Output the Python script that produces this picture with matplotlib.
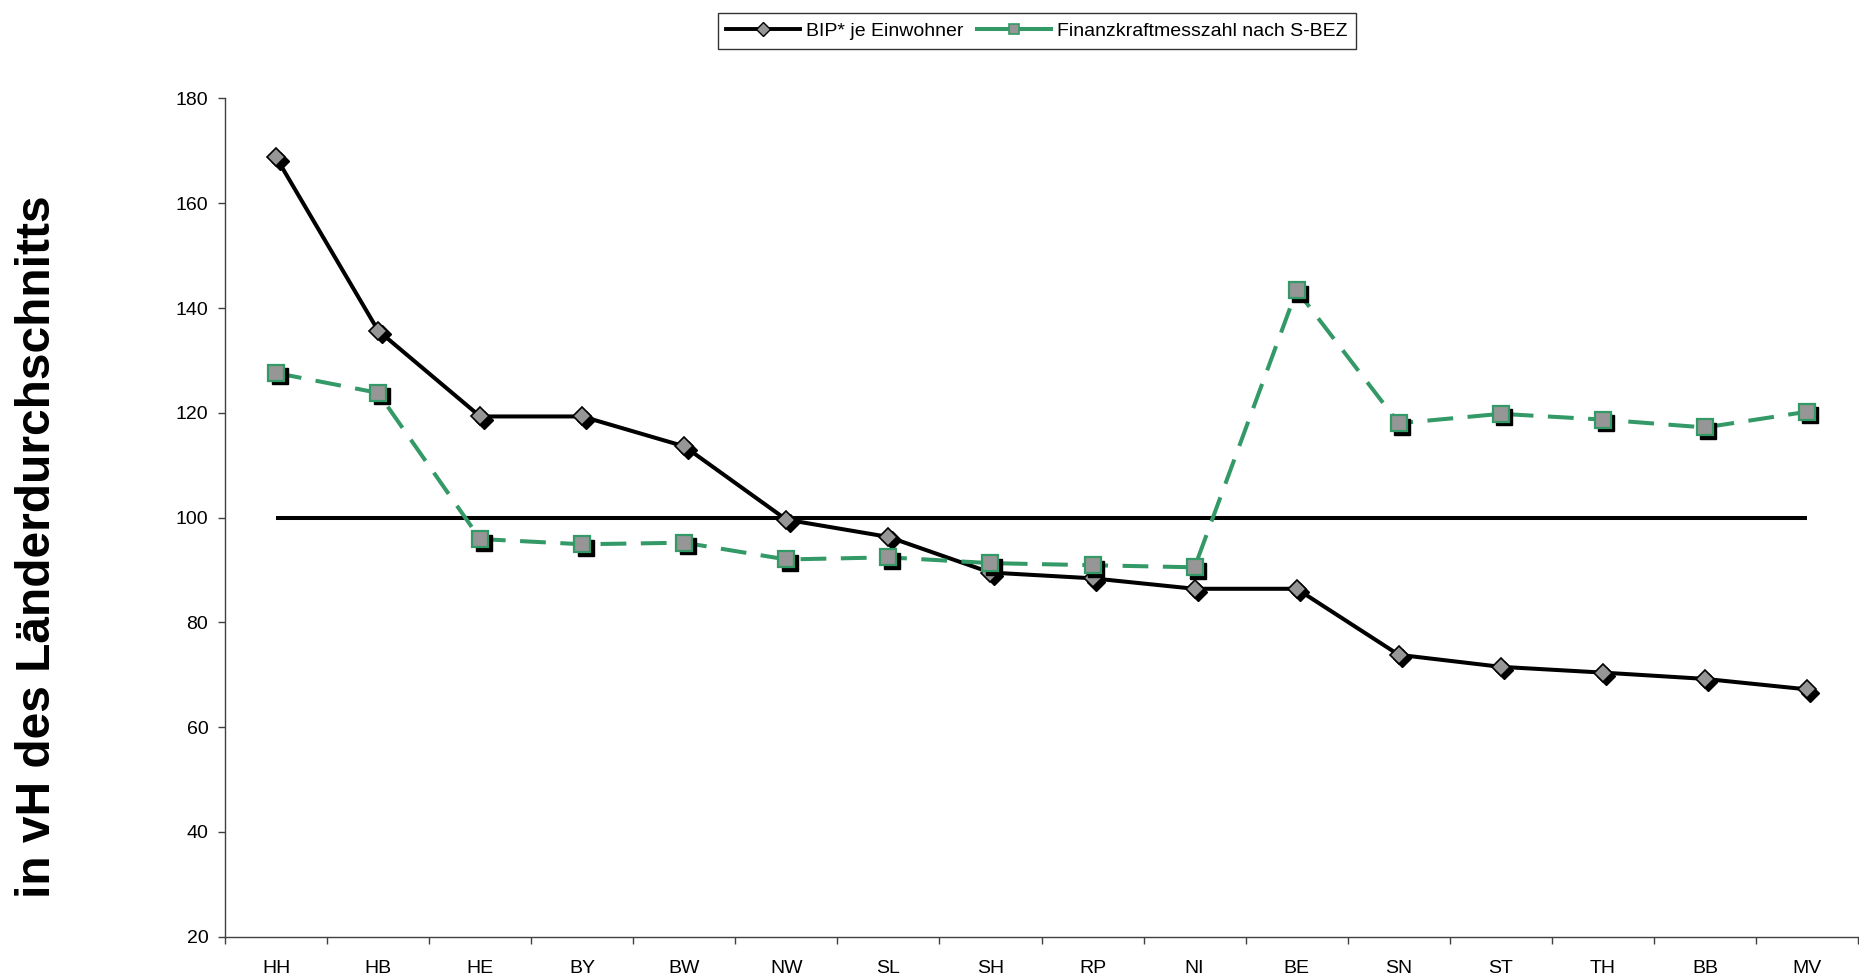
import matplotlib
matplotlib.use("Agg")
import matplotlib.pyplot as plt
from matplotlib.lines import Line2D
from matplotlib.transforms import offset_copy

# Länder, sorted by GDP per capita
laender = ["HH", "HB", "HE", "BY", "BW", "NW", "SL", "SH",
           "RP", "NI", "BE", "SN", "ST", "TH", "BB", "MV"]

# BIP* je Einwohner, in vH des Länderdurchschnitts
bip_je_einwohner = [168.8, 135.7, 119.3, 119.3, 113.6, 99.6, 96.3, 89.5,
                    88.4, 86.4, 86.4, 73.8, 71.5, 70.4, 69.2, 67.2]

# Finanzkraftmesszahl nach S-BEZ, in vH des Länderdurchschnitts
finanzkraft_s_bez = [127.6, 123.8, 95.9, 94.9, 95.2, 92.0, 92.4, 91.3,
                     90.9, 90.5, 143.4, 118.0, 119.8, 118.7, 117.2, 120.2]

laenderdurchschnitt = 100
y_ticks = [20, 40, 60, 80, 100, 120, 140, 160, 180]

label_bip = "BIP* je Einwohner"
label_fkz = "Finanzkraftmesszahl nach S-BEZ"
y_label = "in vH des Länderdurchschnitts"

GREEN = "#339966"
GREY = "#969696"

plt.rcParams["font.family"] = ["Liberation Sans", "DejaVu Sans"]

W, H = 1859, 980
fig = plt.figure(figsize=(W / 100, H / 100), dpi=100)
ax = fig.add_axes([225 / W, 1 - 936.6 / H, (1858 - 225) / W, (936.6 - 98.5) / H])

x = list(range(len(laender)))
shadow = offset_copy(ax.transData, fig=fig, x=3.5, y=-3.5, units="dots")

# Reference line for the average of all Länder
ax.hlines(laenderdurchschnitt, x[0], x[-1], color="black", lw=2.9, zorder=2)

# GDP per capita: solid black line with grey diamonds
ax.plot(x, bip_je_einwohner, color="black", lw=2.9, zorder=3,
        solid_joinstyle="miter")
ax.plot(x, bip_je_einwohner, ls="none", marker="D", ms=9.5,
        mfc="black", mec="black", transform=shadow, zorder=4)
ax.plot(x, bip_je_einwohner, ls="none", marker="D", ms=9.5,
        mfc=GREY, mec="black", mew=1.2, zorder=5)

# Financial strength: dashed green line with grey squares
ax.plot(x, finanzkraft_s_bez, color=GREEN, lw=2.9, ls=(0, (6.4, 3.6)),
        zorder=6)
ax.plot(x, finanzkraft_s_bez, ls="none", marker="s", ms=11,
        mfc="black", mec="black", transform=shadow, zorder=7)
ax.plot(x, finanzkraft_s_bez, ls="none", marker="s", ms=11,
        mfc=GREY, mec=GREEN, mew=1.6, zorder=8)

# Axes styling
ax.set_xlim(-0.5, len(laender) - 0.5)
ax.set_ylim(y_ticks[0], y_ticks[-1])
ax.set_yticks(y_ticks)
ax.set_xticks(x)
ax.set_xticklabels(laender)
ax.set_xticks([i - 0.5 for i in range(len(laender) + 1)], minor=True)
ax.tick_params(axis="x", which="major", length=0, pad=17, labelsize=14)
ax.tick_params(axis="x", which="minor", length=5, width=1, color="#404040")
ax.tick_params(axis="y", length=5, width=1, color="#404040", pad=7,
               labelsize=14)
for side in ("top", "right"):
    ax.spines[side].set_visible(False)
for side in ("left", "bottom"):
    ax.spines[side].set_color("#404040")
    ax.spines[side].set_linewidth(1.0)

# Legend on top of the figure
h_bip = Line2D([], [], color="black", lw=2.8, marker="D", ms=7,
               mfc=GREY, mec="black", mew=1.0)
h_fkz = Line2D([], [], color=GREEN, lw=2.9, marker="s", ms=7,
               mfc=GREY, mec=GREEN, mew=1.2)
leg = fig.legend([h_bip, h_fkz], [label_bip, label_fkz], loc="center",
                 bbox_to_anchor=(1037 / W, 1 - 31 / H), ncol=2,
                 frameon=True, fancybox=False, edgecolor="black",
                 fontsize=14, handlelength=3.8, handletextpad=0.3,
                 columnspacing=0.7, borderpad=0.45)
leg.get_frame().set_linewidth(1.0)

# Y axis title
fig.text(38 / W, 1 - 547 / H, y_label, rotation=90, fontsize=34.5,
         fontweight="bold", ha="center", va="center")

fig.savefig("out.png", dpi=100)
